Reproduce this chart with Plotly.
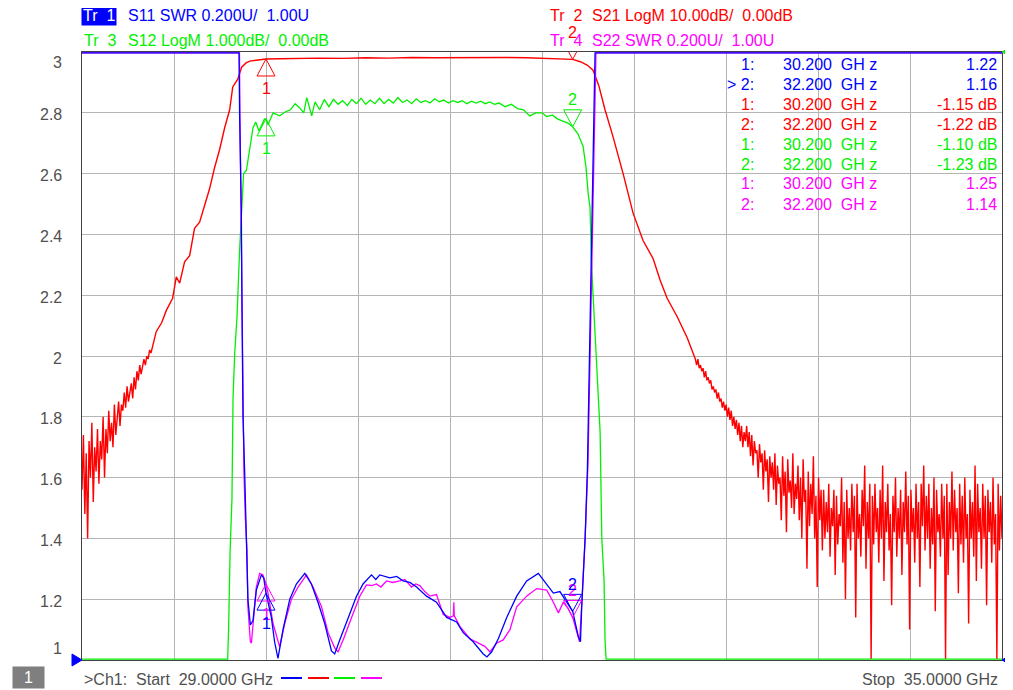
import numpy as np
import plotly.graph_objects as go

# VNA screen: 4 traces on one graticule, scale of Tr1 (SWR 0.2U/div, 1.00U at bottom)
F_START, F_STOP = 29.0, 35.0

# S21 LogM (dB), noisy lower skirt 29.0 .. 29.45 GHz
s21_lo_db = [-72, -63, -76, -66, -80, -64, -70, -61, -74, -65, -69, -62, -71, -64, -67,
             -60, -70, -62, -66, -59, -64, -61, -65, -58, -63,
             -60, -57.5, -61.5, -58, -59, -56, -58.5, -55, -57.5, -56, -54.5, -57, -53.5,
             -55.5, -52.5, -54, -51.5, -53, -52, -50.5, -51.5, -50, -50.5, -49, -49.5]

# S21 LogM (dB), smooth part (GHz, dB)
s21_mid = [(29.484, -46), (29.52, -44.5), (29.55, -42.5), (29.591, -40.5), (29.615, -37),
           (29.637, -38), (29.669, -34.5), (29.702, -33.5), (29.734, -29), (29.767, -28),
           (29.80, -25), (29.832, -22.5), (29.865, -19), (29.898, -16), (29.93, -12.5),
           (29.963, -9.5), (29.983, -5.75), (30.0, -5.0), (30.015, -4.5), (30.041, -2.5),
           (30.07, -1.8), (30.094, -1.5), (30.14, -1.3), (30.178, -1.2), (30.2, -1.15),
           (30.29, -1.1), (30.4, -1.05), (30.55, -1.0), (30.7, -1.05), (30.85, -0.95),
           (31.0, -1.0), (31.15, -0.9), (31.3, -0.95), (31.45, -0.9), (31.6, -0.95),
           (31.75, -0.9), (31.9, -0.95), (32.0, -1.0), (32.1, -1.05), (32.2, -1.22),
           (32.25, -1.6), (32.294, -2.15), (32.333, -3.0), (32.37, -5.5), (32.411, -9.5),
           (32.464, -14), (32.529, -20), (32.594, -26.5), (32.659, -31), (32.725, -34),
           (32.77, -37.5), (32.816, -40.5), (32.881, -43.5), (32.947, -47)]

# S21 LogM (dB), upper skirt + stopband noise 33.0 .. 35.0 GHz
s21_hi_db = [
    -50.5, -51.5, -50.5, -52, -51.5, -52.5, -52, -53.5, -52.5, -54, -53.5, -54.5, -54, -55.5, -55, -56, -55.5, -57, -56, -57.5,
    -57, -58.5, -57.5, -59, -58, -60, -58.5, -60.5, -59, -61.5, -60, -62, -60.5, -63, -61, -64, -61.5, -65, -62.5, -64,
    -61.5, -65, -62.5, -66.5, -63, -68, -64, -66, -65.5, -70, -64.5, -67.5, -66, -72, -65.5, -69, -67, -74, -66.5, -70,
    -67.5, -72, -66, -74.5, -68, -71, -70, -77, -66.5, -73, -69, -79, -67, -72.5, -70.5, -75, -66, -76, -71, -73.5,
    -68, -77, -70, -80, -67, -74, -72, -85, -69, -78, -71, -76, -66.5, -80, -73, -88, -70, -77, -72, -82,
    -72, -80, -74, -79, -71, -83, -75, -78, -72, -86, -73, -81, -76, -78, -70, -84, -74, -90, -72, -80,
    -75, -82, -71, -79, -73, -93, -71, -80, -76, -83, -72, -78, -68, -85, -74, -80, -71, -101, -73, -81,
    -71, -79, -75, -84, -72, -80, -68, -87, -74, -79, -71, -82, -76, -91, -73, -79, -70, -83, -75, -80,
    -72, -86, -74, -79, -69, -81, -73, -95, -72, -79, -75, -84, -71, -80, -74, -88, -71, -78, -68, -82,
    -73, -80, -71, -85, -75, -81, -70, -92, -72, -79, -76, -83, -71, -80, -73, -104, -71, -86, -74, -80,
    -69, -82, -72, -79, -75, -89, -71, -81, -73, -84, -70, -80, -76, -94, -72, -80, -74, -83, -68, -87,
    -71, -79, -75, -85, -71, -80, -73, -91, -72, -79, -74, -84, -70, -81, -76, -103, -71, -82, -73, -80]

# S12 LogM (dB), 1 dB/div, ref 0 dB at top (GHz, dB)
s12_pts = [(29.0, -10), (29.95, -10), (29.956, -9.5), (29.966, -8.2), (29.978, -7.35),
           (29.985, -5.7), (29.996, -4.95), (30.011, -4.35), (30.028, -3.25), (30.043, -2.55),
           (30.054, -2.0), (30.072, -1.95), (30.094, -1.55), (30.115, -1.25), (30.133, -1.15),
           (30.154, -1.3), (30.172, -1.2), (30.191, -1.1), (30.2, -1.10), (30.213, -1.2),
           (30.246, -1.0), (30.289, -1.05), (30.33, -0.98), (30.36, -0.95), (30.39, -0.85),
           (30.42, -0.92), (30.446, -1.0), (30.466, -0.75), (30.498, -1.05), (30.52, -0.82),
           (30.55, -0.95), (30.58, -0.78), (30.61, -0.9), (30.64, -0.78), (30.67, -0.86),
           (30.70, -0.8), (30.73, -0.88), (30.76, -0.78), (30.79, -0.85), (30.82, -0.76),
           (30.85, -0.86), (30.88, -0.79), (30.91, -0.85), (30.94, -0.76), (30.97, -0.85),
           (31.00, -0.78), (31.03, -0.84), (31.06, -0.75), (31.09, -0.83), (31.12, -0.79),
           (31.15, -0.85), (31.18, -0.77), (31.21, -0.83), (31.24, -0.8), (31.27, -0.84),
           (31.30, -0.77), (31.33, -0.82), (31.36, -0.79), (31.39, -0.84), (31.42, -0.8),
           (31.45, -0.83), (31.48, -0.8), (31.51, -0.85), (31.54, -0.81), (31.57, -0.84),
           (31.60, -0.81), (31.63, -0.85), (31.66, -0.82), (31.69, -0.86), (31.72, -0.84),
           (31.76, -0.9), (31.80, -0.86), (31.84, -0.93), (31.88, -0.95), (31.92, -1.05),
           (31.96, -1.0), (32.0, -1.0), (32.03, -1.06), (32.07, -1.04), (32.1, -1.1),
           (32.14, -1.14), (32.17, -1.17), (32.2, -1.23), (32.235, -1.35), (32.268, -1.55),
           (32.287, -1.9), (32.302, -2.35), (32.313, -2.55), (32.324, -3.55), (32.346, -4.6),
           (32.357, -5.2), (32.368, -5.7), (32.379, -6.25), (32.39, -8.0), (32.405, -8.7),
           (32.411, -9.67), (32.418, -10), (35.0, -10)]

# S11 SWR (GHz, U)
s11_pts = [(29.0, 3.0), (30.024, 3.0), (30.028, 2.79), (30.039, 2.48), (30.043, 2.18),
           (30.05, 1.80), (30.061, 1.615), (30.067, 1.47), (30.072, 1.36), (30.082, 1.20),
           (30.098, 1.115), (30.115, 1.13), (30.137, 1.23), (30.17, 1.28), (30.185, 1.27),
           (30.2, 1.22), (30.235, 1.14), (30.256, 1.06), (30.278, 1.005), (30.311, 1.10),
           (30.355, 1.20), (30.398, 1.25), (30.453, 1.285), (30.496, 1.25), (30.539, 1.19),
           (30.583, 1.12), (30.627, 1.03), (30.648, 1.02), (30.681, 1.066), (30.735, 1.14),
           (30.79, 1.21), (30.833, 1.25), (30.888, 1.28), (30.916, 1.265), (30.942, 1.28),
           (31.008, 1.27), (31.053, 1.275), (31.094, 1.26), (31.138, 1.255), (31.182, 1.24),
           (31.247, 1.21), (31.312, 1.19), (31.378, 1.14), (31.443, 1.125), (31.486, 1.09),
           (31.551, 1.06), (31.617, 1.02), (31.641, 1.01), (31.672, 1.027), (31.715, 1.07),
           (31.77, 1.14), (31.835, 1.21), (31.90, 1.26), (31.976, 1.285), (32.031, 1.25),
           (32.074, 1.22), (32.117, 1.225), (32.15, 1.20), (32.2, 1.16), (32.237, 1.077),
           (32.251, 1.06), (32.259, 1.175), (32.281, 1.40), (32.296, 1.625), (32.32, 2.3),
           (32.346, 3.0), (35.0, 3.0)]

# S22 SWR (GHz, U)
s22_pts = [(29.0, 3.0), (30.027, 3.0), (30.03, 2.80), (30.035, 2.52), (30.043, 2.2),
           (30.056, 1.62), (30.065, 1.47), (30.076, 1.36), (30.082, 1.175), (30.098, 1.06),
           (30.105, 1.056), (30.115, 1.11), (30.137, 1.24), (30.159, 1.285), (30.18, 1.28),
           (30.2, 1.25), (30.213, 1.22), (30.246, 1.12), (30.289, 1.043), (30.322, 1.12),
           (30.366, 1.20), (30.409, 1.24), (30.464, 1.28), (30.507, 1.24), (30.562, 1.175),
           (30.605, 1.09), (30.648, 1.04), (30.67, 1.027), (30.703, 1.066), (30.758, 1.14),
           (30.812, 1.21), (30.855, 1.247), (30.89, 1.245), (30.921, 1.25), (30.949, 1.24),
           (30.986, 1.26), (31.027, 1.255), (31.073, 1.26), (31.105, 1.265), (31.149, 1.24),
           (31.177, 1.25), (31.203, 1.245), (31.236, 1.225), (31.269, 1.21), (31.312, 1.215),
           (31.356, 1.15), (31.4, 1.14), (31.422, 1.145), (31.425, 1.19), (31.428, 1.145),
           (31.465, 1.11), (31.53, 1.07), (31.595, 1.055), (31.627, 1.045), (31.66, 1.027),
           (31.704, 1.055), (31.747, 1.066), (31.791, 1.10), (31.835, 1.175), (31.90, 1.21),
           (31.965, 1.235), (32.031, 1.23), (32.074, 1.19), (32.107, 1.155), (32.139, 1.19),
           (32.17, 1.17), (32.2, 1.14), (32.237, 1.077), (32.245, 1.06), (32.261, 1.20),
           (32.281, 1.395), (32.3, 1.65), (32.326, 2.35), (32.352, 3.0), (35.0, 3.0)]

# marker table
mk_f = [30.2, 32.2]
s11_mk = [1.22, 1.16]
s21_mk = [-1.15, -1.22]
s12_mk = [-1.10, -1.23]
s22_mk = [1.25, 1.14]

BLUE, RED, GREEN, MAG = "#0000ff", "#ff0000", "#00f000", "#ff00ff"
GRAY = "#505050"
FONT = "Liberation Sans, Arial, sans-serif"
SP = "\u00a0"

# page body has an 8px margin, so the figure is made 8px smaller and
# page coordinates are converted with that offset
OFF = 8
W, H = 1013 - OFF, 690 - OFF
L, T, R, B = 82 - OFF, 52 - OFF, 11, 30
PW, PH = W - L - R, H - T - B


def logm(db, per_div):
    # dB -> graticule units (0.2 U per division, reference 0 dB on the top line)
    return 3.0 + np.asarray(db, float) / per_div * 0.2


def clip(v):
    # the analyzer pins off-screen data onto the frame
    return np.clip(v, 1.003, 2.997)


def px(x):
    return (x - OFF - L) / PW


def py(y):
    return (H - B - (y - OFF)) / PH


def label(x, y, txt, col, anchor="left", **kw):
    d = dict(x=px(x), y=py(y), xref="paper", yref="paper", xanchor=anchor, yanchor="middle",
             text=txt, showarrow=False, font=dict(color=col, size=16))
    d.update(kw)
    return d


s21_f = list(np.linspace(F_START, 29.45, len(s21_lo_db))) + [p[0] for p in s21_mid] \
    + list(np.linspace(33.0, F_STOP, len(s21_hi_db)))
s21_db = s21_lo_db + [p[1] for p in s21_mid] + s21_hi_db

fig = go.Figure()
fig.add_trace(go.Scatter(x=s21_f, y=clip(logm(s21_db, 10)), mode="lines",
                         line=dict(color=RED, width=1.4)))
fig.add_trace(go.Scatter(x=[p[0] for p in s12_pts], y=clip(logm([p[1] for p in s12_pts], 1)),
                         mode="lines", line=dict(color=GREEN, width=1.3)))
fig.add_trace(go.Scatter(x=[p[0] for p in s22_pts], y=clip([p[1] for p in s22_pts]),
                         mode="lines", line=dict(color=MAG, width=1.3)))
fig.add_trace(go.Scatter(x=[p[0] for p in s11_pts], y=clip([p[1] for p in s11_pts]),
                         mode="lines", line=dict(color=BLUE, width=1.3)))

shapes = []
ann = []

# markers: 1 = triangle under the point, 2 = triangle above
mk_sets = [(logm(s21_mk, 10), RED), (logm(s12_mk, 1), GREEN), (s22_mk, MAG), (s11_mk, BLUE)]
for vals, col in mk_sets:
    for i, f in enumerate(mk_f):
        v = float(vals[i])
        if i == 0:
            path = "M0,0 L-9,-17 L9,-17 Z"
            dy = -30
        else:
            path = "M0,0 L-9,17 L9,17 Z"
            dy = 27
        shapes.append(dict(type="path", xref="x", yref="y", xsizemode="pixel", ysizemode="pixel",
                           xanchor=f, yanchor=v, path=path, line=dict(color=col, width=1)))
        ann.append(dict(x=f, y=v, xref="x", yref="y", yshift=dy, text=str(i + 1), showarrow=False,
                        yanchor="middle", font=dict(color=col, size=16)))

# y labels (top/bottom ones sit inside the frame like on the screen)
for k in range(11):
    v = 1.0 + 0.2 * k
    txt = "%g" % round(v, 1)
    shift = -10 if k == 10 else (12 if k == 0 else -2)
    ann.append(dict(x=0, xref="paper", xanchor="right", xshift=-18, y=v, yref="y", yshift=shift,
                    yanchor="middle", text=txt, showarrow=False, font=dict(color=GRAY, size=16)))

# header
ann.append(label(81, 15, "Tr" + SP * 2 + "1", "white", bgcolor=BLUE, borderpad=1))
ann.append(label(126, 15, "S11 SWR 0.200U/" + SP * 2 + "1.00U", BLUE))
ann.append(label(82, 41, "Tr" + SP * 2 + "3", GREEN))
ann.append(label(126, 41, "S12 LogM 1.000dB/" + SP * 2 + "0.00dB", GREEN))
ann.append(label(548, 15, "Tr" + SP * 2 + "2", RED))
ann.append(label(590, 15, "S21 LogM 10.00dB/" + SP * 2 + "0.00dB", RED))
ann.append(label(548, 41, "Tr" + SP * 2 + "4", MAG))
ann.append(label(590, 41, "S22 SWR 0.200U/" + SP * 2 + "1.00U", MAG))

# marker readout table
rows = [("1:", 30.2, "%.2f" % s11_mk[0], BLUE), (">" + SP + "2:", 32.2, "%.2f" % s11_mk[1], BLUE),
        ("1:", 30.2, "%.2f dB" % s21_mk[0], RED), ("2:", 32.2, "%.2f dB" % s21_mk[1], RED),
        ("1:", 30.2, "%.2f dB" % s12_mk[0], GREEN), ("2:", 32.2, "%.2f dB" % s12_mk[1], GREEN),
        ("1:", 30.2, "%.2f" % s22_mk[0], MAG), ("2:", 32.2, "%.2f" % s22_mk[1], MAG)]
for j, (idx, f, val, col) in enumerate(rows):
    y = 64 + 20 * j
    ann.append(label(756, y, idx, col, anchor="right"))
    ann.append(label(781, y, "%.3f" % f + SP * 2 + "GH" + SP + "z", col))
    ann.append(label(999, y, val, col, anchor="right"))

# footer
ann.append(label(12, 677, SP * 2 + "1" + SP * 2, "white", bgcolor="#7f7f7f", borderpad=2))
ann.append(label(82, 679, ">Ch1:" + SP * 2 + "Start" + SP * 2 + "29.0000 GHz", GRAY))
ann.append(label(1000, 679, "Stop" + SP * 2 + "35.0000 GHz", GRAY, anchor="right"))
for x0, col in [(281, BLUE), (308, RED), (334, GREEN), (361, MAG)]:
    shapes.append(dict(type="line", xref="paper", yref="paper", x0=px(x0), x1=px(x0 + 21),
                       y0=py(678), y1=py(678), line=dict(color=col, width=2)))

# reference position arrows on the frame
shapes.append(dict(type="path", xref="paper", yref="paper", xsizemode="pixel", ysizemode="pixel",
                   xanchor=0, yanchor=0, path="M0,0 L-10,6 L-10,-6 Z", fillcolor=BLUE,
                   line=dict(color=BLUE, width=1)))
shapes.append(dict(type="path", xref="paper", yref="paper", xsizemode="pixel", ysizemode="pixel",
                   xanchor=1, yanchor=0, path="M0,0 L10,6 L10,-6 Z", fillcolor=BLUE,
                   line=dict(color=BLUE, width=1)))
shapes.append(dict(type="path", xref="paper", yref="paper", xsizemode="pixel", ysizemode="pixel",
                   xanchor=1, yanchor=1, path="M0,0 L10,6 L10,-6 Z", fillcolor=GREEN,
                   line=dict(color=GREEN, width=1)))

fig.update_layout(width=W, height=H, margin=dict(l=L, r=R, t=T, b=B),
                  plot_bgcolor="white", paper_bgcolor="white", showlegend=False,
                  font=dict(family=FONT, size=16, color=GRAY),
                  shapes=shapes, annotations=ann)
fig.update_xaxes(range=[F_START, F_STOP], tick0=F_START, dtick=0.6, showgrid=True,
                 gridcolor="#b4b4b4", gridwidth=1, zeroline=False, showticklabels=False,
                 showline=True, mirror=True, linecolor="#404040", linewidth=1, layer="below traces")
fig.update_yaxes(range=[1, 3], tick0=1, dtick=0.2, showgrid=True, gridcolor="#b4b4b4",
                 gridwidth=1, zeroline=False, showticklabels=False, showline=True, mirror=True,
                 linecolor="#404040", linewidth=1, layer="below traces")

fig.write_html("out.html")
